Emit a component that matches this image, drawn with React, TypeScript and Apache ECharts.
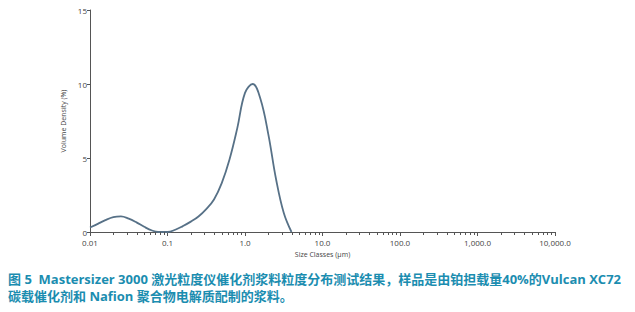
import React, { useEffect, useRef } from "react";
import * as echarts from "echarts";

const sizes = [
  0.01, 0.0126, 0.0158, 0.02, 0.0251, 0.0316, 0.0398, 0.0501, 0.0631, 0.0759,
  0.1, 0.126, 0.158, 0.2, 0.251, 0.316, 0.398, 0.501, 0.631, 0.794,
  1.0, 1.26, 1.58, 2.0, 2.51, 3.16, 3.98,
];
const density = [
  0.3, 0.55, 0.8, 1.0, 1.05, 0.9, 0.65, 0.35, 0.1, 0,
  0, 0.15, 0.4, 0.7, 1.05, 1.55, 2.2, 3.3, 4.9, 7.0,
  9.4, 10.0, 9.0, 6.6, 3.6, 1.3, 0,
];
const xTickLabels = ["0.01", "0.1", "1.0", "10.0", "100.0", "1,000.0", "10,000.0"];
const minorMultipliers = [2, 3, 4, 5, 6, 7, 8, 9];
const decades = [0.01, 0.1, 1, 10, 100, 1000];

const captionLine1 =
  "图 5  Mastersizer 3000 激光粒度仪催化剂浆料粒度分布测试结果，样品是由铂担载量40%的Vulcan XC72";
const captionLine2 = "碳载催化剂和 Nafion 聚合物电解质配制的浆料。";

export default function App() {
  const ref = useRef<HTMLDivElement>(null);
  useEffect(() => {
    if (!ref.current) return;
    const chart = echarts.init(ref.current, undefined, { renderer: "svg" });
    const minorValues: number[] = [];
    decades.forEach((d) => minorMultipliers.forEach((m) => minorValues.push(d * m)));
    const axisColor = "#555";
    const labelStyle = { color: "#444", fontSize: 8, fontFamily: "Open Sans" };
    const captionFont = "bold 13px 'Open Sans', 'Noto Sans CJK SC', sans-serif";
    const captionGraphics = [
      {
        type: "text",
        left: 8,
        top: 272,
        style: { text: captionLine1, fill: "#1b8db0", font: captionFont },
      },
      {
        type: "text",
        left: 8,
        top: 289,
        style: { text: captionLine2, fill: "#1b8db0", font: captionFont },
      },
    ];
    chart.setOption({
      animation: false,
      backgroundColor: "#fff",
      grid: { left: 90, right: 80, top: 10, bottom: 80, containLabel: false },
      xAxis: {
        type: "log",
        logBase: 10,
        min: 0.01,
        max: 10000,
        name: "Size Classes (µm)",
        nameLocation: "middle",
        nameGap: 14,
        nameTextStyle: { color: "#444", fontSize: 7, fontFamily: "Open Sans" },
        axisLine: { show: true, lineStyle: { color: axisColor, width: 1 } },
        axisTick: { show: true, length: 4, lineStyle: { color: axisColor } },
        axisLabel: {
          ...labelStyle,
          margin: 6,
          formatter: (v: number) => {
            const i = Math.round(Math.log10(v)) + 2;
            return xTickLabels[i] ?? "";
          },
        },
        splitLine: { show: false },
      },
      yAxis: {
        type: "value",
        min: 0,
        max: 15,
        interval: 5,
        name: "Volume Density (%)",
        nameLocation: "middle",
        nameGap: 12,
        nameRotate: 90,
        nameTextStyle: { color: "#444", fontSize: 7, fontFamily: "Open Sans" },
        axisLine: { show: true, lineStyle: { color: axisColor, width: 1 } },
        axisTick: { show: true, length: 3, lineStyle: { color: axisColor } },
        axisLabel: { ...labelStyle, margin: 3 },
        splitLine: { show: false },
      },
      series: [
        {
          type: "line",
          data: sizes.map((s, i) => [s, density[i]]),
          smooth: 0.4,
          showSymbol: false,
          symbol: "none",
          lineStyle: { color: "#577187", width: 1.8 },
          z: 3,
        },
      ],
      graphic: captionGraphics,
    });

    // Minor ticks positioned through the chart's own log scale
    const tickGraphics: any[] = [];
    minorValues.forEach((v) => {
      const p = chart.convertToPixel({ gridIndex: 0 }, [v, 0]) as number[];
      if (!p || !isFinite(p[0])) return;
      const x = Math.round(p[0]) + 0.5;
      const y = Math.round(p[1]);
      tickGraphics.push({
        type: "line",
        shape: { x1: x, y1: y, x2: x, y2: y + 3 },
        style: { stroke: axisColor, lineWidth: 1 },
        z: 10,
      });
    });
    chart.setOption({ graphic: [...captionGraphics, ...tickGraphics] });

    return () => chart.dispose();
  }, []);
  return <div ref={ref} style={{ width: 635, height: 312, position: "absolute", left: 0, top: 0 }} />;
}
